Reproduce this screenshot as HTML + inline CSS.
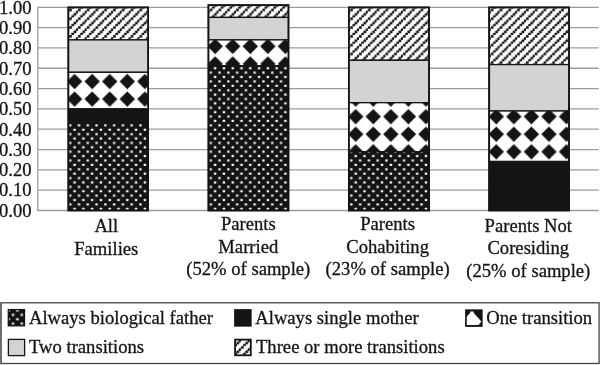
<!DOCTYPE html>
<html><head><meta charset="utf-8"><title>chart</title>
<style>
html,body{margin:0;padding:0;background:#fff;}
body{width:600px;height:365px;overflow:hidden;}
svg{display:block;will-change:transform;}
text{font-family:"Liberation Serif",serif;fill:#151515;stroke:#151515;stroke-width:0.3px;}
</style></head><body>
<svg width="600" height="365" viewBox="0 0 600 365">
<defs>
<pattern id="pd" patternUnits="userSpaceOnUse" x="7.307" y="1.012" width="8.785" height="8.785"><g transform="translate(0.3,0.3)"><rect x="-1" y="-1" width="10.785" height="10.785" fill="#141414"/><rect x="-0.052" y="-0.052" width="2.3" height="2.3" rx="0.5" fill="#fff"/><rect x="4.341" y="4.341" width="2.3" height="2.3" rx="0.5" fill="#fff"/></g></pattern>
<pattern id="pm" patternUnits="userSpaceOnUse" x="12.805" y="2.135" width="17.570" height="17.570"><g transform="translate(0.3,0.3)"><rect x="-1" y="-1" width="19.570" height="19.570" fill="#fff"/><polygon points="8.785,1.085 16.485,8.785 8.785,16.485 1.085,8.785" fill="#141414"/></g></pattern>
<pattern id="ps" patternUnits="userSpaceOnUse" x="7.622" y="8.602" width="8.785" height="8.785"><g transform="translate(0.3,0.3)"><rect x="-1" y="-1" width="10.785" height="10.785" fill="#fff"/><rect x="-0.252" y="-0.252" width="2.7" height="2.7" rx="0.6" fill="#141414"/><rect x="6.337" y="1.944" width="2.7" height="2.7" rx="0.6" fill="#141414"/><rect x="4.141" y="4.141" width="2.7" height="2.7" rx="0.6" fill="#141414"/><rect x="1.944" y="6.337" width="2.7" height="2.7" rx="0.6" fill="#141414"/></g></pattern>
<pattern id="ps2" patternUnits="userSpaceOnUse" x="3.707" y="3.487" width="8.785" height="8.785"><g transform="translate(0.3,0.3)"><rect x="-1" y="-1" width="10.785" height="10.785" fill="#fff"/><rect x="-0.252" y="-0.252" width="2.7" height="2.7" rx="0.6" fill="#141414"/><rect x="6.337" y="1.944" width="2.7" height="2.7" rx="0.6" fill="#141414"/><rect x="4.141" y="4.141" width="2.7" height="2.7" rx="0.6" fill="#141414"/><rect x="1.944" y="6.337" width="2.7" height="2.7" rx="0.6" fill="#141414"/></g></pattern>
<pattern id="pd2" patternUnits="userSpaceOnUse" x="2.817" y="6.027" width="8.785" height="8.785"><g transform="translate(0.3,0.3)"><rect x="-1" y="-1" width="10.785" height="10.785" fill="#141414"/><rect x="-0.052" y="-0.052" width="2.3" height="2.3" rx="0.5" fill="#fff"/><rect x="4.341" y="4.341" width="2.3" height="2.3" rx="0.5" fill="#fff"/></g></pattern>
</defs>
<rect width="600" height="365" fill="#fff"/>
<line x1="37.8" y1="210.50" x2="598.8" y2="210.50" stroke="#9c9c9c" stroke-width="1.3"/>
<line x1="37.8" y1="190.18" x2="598.8" y2="190.18" stroke="#9c9c9c" stroke-width="1.3"/>
<line x1="37.8" y1="169.86" x2="598.8" y2="169.86" stroke="#9c9c9c" stroke-width="1.3"/>
<line x1="37.8" y1="149.54" x2="598.8" y2="149.54" stroke="#9c9c9c" stroke-width="1.3"/>
<line x1="37.8" y1="129.22" x2="598.8" y2="129.22" stroke="#9c9c9c" stroke-width="1.3"/>
<line x1="37.8" y1="108.90" x2="598.8" y2="108.90" stroke="#9c9c9c" stroke-width="1.3"/>
<line x1="37.8" y1="88.58" x2="598.8" y2="88.58" stroke="#9c9c9c" stroke-width="1.3"/>
<line x1="37.8" y1="68.26" x2="598.8" y2="68.26" stroke="#9c9c9c" stroke-width="1.3"/>
<line x1="37.8" y1="47.94" x2="598.8" y2="47.94" stroke="#9c9c9c" stroke-width="1.3"/>
<line x1="37.8" y1="27.62" x2="598.8" y2="27.62" stroke="#9c9c9c" stroke-width="1.3"/>
<line x1="37.8" y1="7.30" x2="598.8" y2="7.30" stroke="#9c9c9c" stroke-width="1.3"/>
<line x1="37.8" y1="6.80" x2="37.8" y2="211.00" stroke="#9c9c9c" stroke-width="1.3"/>
<text x="31.6" y="216.80" font-size="18.62" text-anchor="end">0.00</text>
<text x="31.6" y="196.48" font-size="18.62" text-anchor="end">0.10</text>
<text x="31.6" y="176.16" font-size="18.62" text-anchor="end">0.20</text>
<text x="31.6" y="155.84" font-size="18.62" text-anchor="end">0.30</text>
<text x="31.6" y="135.52" font-size="18.62" text-anchor="end">0.40</text>
<text x="31.6" y="115.20" font-size="18.62" text-anchor="end">0.50</text>
<text x="31.6" y="94.88" font-size="18.62" text-anchor="end">0.60</text>
<text x="31.6" y="74.56" font-size="18.62" text-anchor="end">0.70</text>
<text x="31.6" y="54.24" font-size="18.62" text-anchor="end">0.80</text>
<text x="31.6" y="33.92" font-size="18.62" text-anchor="end">0.90</text>
<text x="31.6" y="13.60" font-size="18.62" text-anchor="end">1.00</text>
<rect x="68.20" y="7.30" width="80.10" height="32.60" fill="url(#ps)" stroke="#141414" stroke-width="1.3"/>
<rect x="68.20" y="39.90" width="80.10" height="32.40" fill="#d3d3d3" stroke="#141414" stroke-width="1.3"/>
<rect x="68.20" y="72.30" width="80.10" height="36.60" fill="url(#pm)" stroke="#141414" stroke-width="1.3"/>
<rect x="68.20" y="108.90" width="80.10" height="12.80" fill="#141414" stroke="#141414" stroke-width="1.3"/>
<rect x="68.20" y="121.70" width="80.10" height="88.90" fill="url(#pd)" stroke="#141414" stroke-width="1.3"/>
<rect x="68.40" y="7.50" width="79.70" height="202.90" fill="none" stroke="#141414" stroke-width="1.8"/>
<rect x="208.30" y="5.00" width="80.30" height="12.40" fill="url(#ps)" stroke="#141414" stroke-width="1.3"/>
<rect x="208.30" y="17.40" width="80.30" height="22.50" fill="#d3d3d3" stroke="#141414" stroke-width="1.3"/>
<rect x="208.30" y="39.90" width="80.30" height="25.80" fill="url(#pm)" stroke="#141414" stroke-width="1.3"/>
<rect x="208.30" y="65.70" width="80.30" height="144.90" fill="url(#pd)" stroke="#141414" stroke-width="1.3"/>
<rect x="208.50" y="5.20" width="79.90" height="205.20" fill="none" stroke="#141414" stroke-width="1.8"/>
<rect x="348.70" y="7.30" width="80.50" height="53.00" fill="url(#ps)" stroke="#141414" stroke-width="1.3"/>
<rect x="348.70" y="60.30" width="80.50" height="42.40" fill="#d3d3d3" stroke="#141414" stroke-width="1.3"/>
<rect x="348.70" y="102.70" width="80.50" height="49.10" fill="url(#pm)" stroke="#141414" stroke-width="1.3"/>
<rect x="348.70" y="151.80" width="80.50" height="58.80" fill="url(#pd)" stroke="#141414" stroke-width="1.3"/>
<rect x="348.90" y="7.50" width="80.10" height="202.90" fill="none" stroke="#141414" stroke-width="1.8"/>
<rect x="489.00" y="7.30" width="80.20" height="57.30" fill="url(#ps)" stroke="#141414" stroke-width="1.3"/>
<rect x="489.00" y="64.60" width="80.20" height="46.40" fill="#d3d3d3" stroke="#141414" stroke-width="1.3"/>
<rect x="489.00" y="111.00" width="80.20" height="50.50" fill="url(#pm)" stroke="#141414" stroke-width="1.3"/>
<rect x="489.00" y="161.50" width="80.20" height="49.10" fill="#141414" stroke="#141414" stroke-width="1.3"/>
<rect x="489.20" y="7.50" width="79.80" height="202.90" fill="none" stroke="#141414" stroke-width="1.8"/>
<text x="106.3" y="232.0" font-size="18.62" text-anchor="middle">All</text>
<text x="106.3" y="254.6" font-size="18.62" text-anchor="middle">Families</text>
<text x="248.3" y="230.2" font-size="18.62" text-anchor="middle">Parents</text>
<text x="248.3" y="252.7" font-size="18.62" text-anchor="middle">Married</text>
<text x="248.3" y="275.2" font-size="18.62" text-anchor="middle">(52% of sample)</text>
<text x="387.6" y="230.2" font-size="18.62" text-anchor="middle">Parents</text>
<text x="387.6" y="252.7" font-size="18.62" text-anchor="middle">Cohabiting</text>
<text x="387.6" y="275.4" font-size="18.62" text-anchor="middle">(23% of sample)</text>
<text x="528.3" y="231.9" font-size="18.62" text-anchor="middle">Parents Not</text>
<text x="528.3" y="254.3" font-size="18.62" text-anchor="middle">Coresiding</text>
<text x="528.3" y="276.7" font-size="18.62" text-anchor="middle">(25% of sample)</text>
<rect x="1.0" y="302.8" width="598.1" height="60.7" fill="#fff" stroke="#444" stroke-width="1.3"/>
<line x1="0.9" y1="302.2" x2="0.9" y2="364.2" stroke="#6a6a6a" stroke-width="1.8"/>
<rect x="8.3" y="309.6" width="16.2" height="16.2" fill="url(#pd2)" stroke="#141414" stroke-width="1.3"/>
<text x="29.0" y="324.2" font-size="18.62">Always biological father</text>
<rect x="234.8" y="309.8" width="16.2" height="16.2" fill="#141414" stroke="#141414" stroke-width="1.3"/>
<text x="255.3" y="324.2" font-size="18.62">Always single mother</text>
<rect x="465.8" y="310.0" width="16.2" height="16.2" fill="#141414" stroke="#141414" stroke-width="1.3"/>
<polygon points="470.2,311.4 473.6,311.4 473.6,312.8 480.9,320.9 480.9,322.2 478.5,324.9 466.8,324.9 466.8,316.5 470.2,312.8" fill="#fff"/>
<text x="486.2" y="324.2" font-size="18.62">One transition</text>
<rect x="8.4" y="339.4" width="16.2" height="16.2" fill="#d3d3d3" stroke="#141414" stroke-width="1.3"/>
<text x="29.0" y="353.0" font-size="18.62">Two transitions</text>
<rect x="235.1" y="339.6" width="15.7" height="15.7" fill="url(#ps2)" stroke="#141414" stroke-width="1.8"/>
<text x="256.0" y="353.0" font-size="18.62">Three or more transitions</text>
</svg></body></html>
